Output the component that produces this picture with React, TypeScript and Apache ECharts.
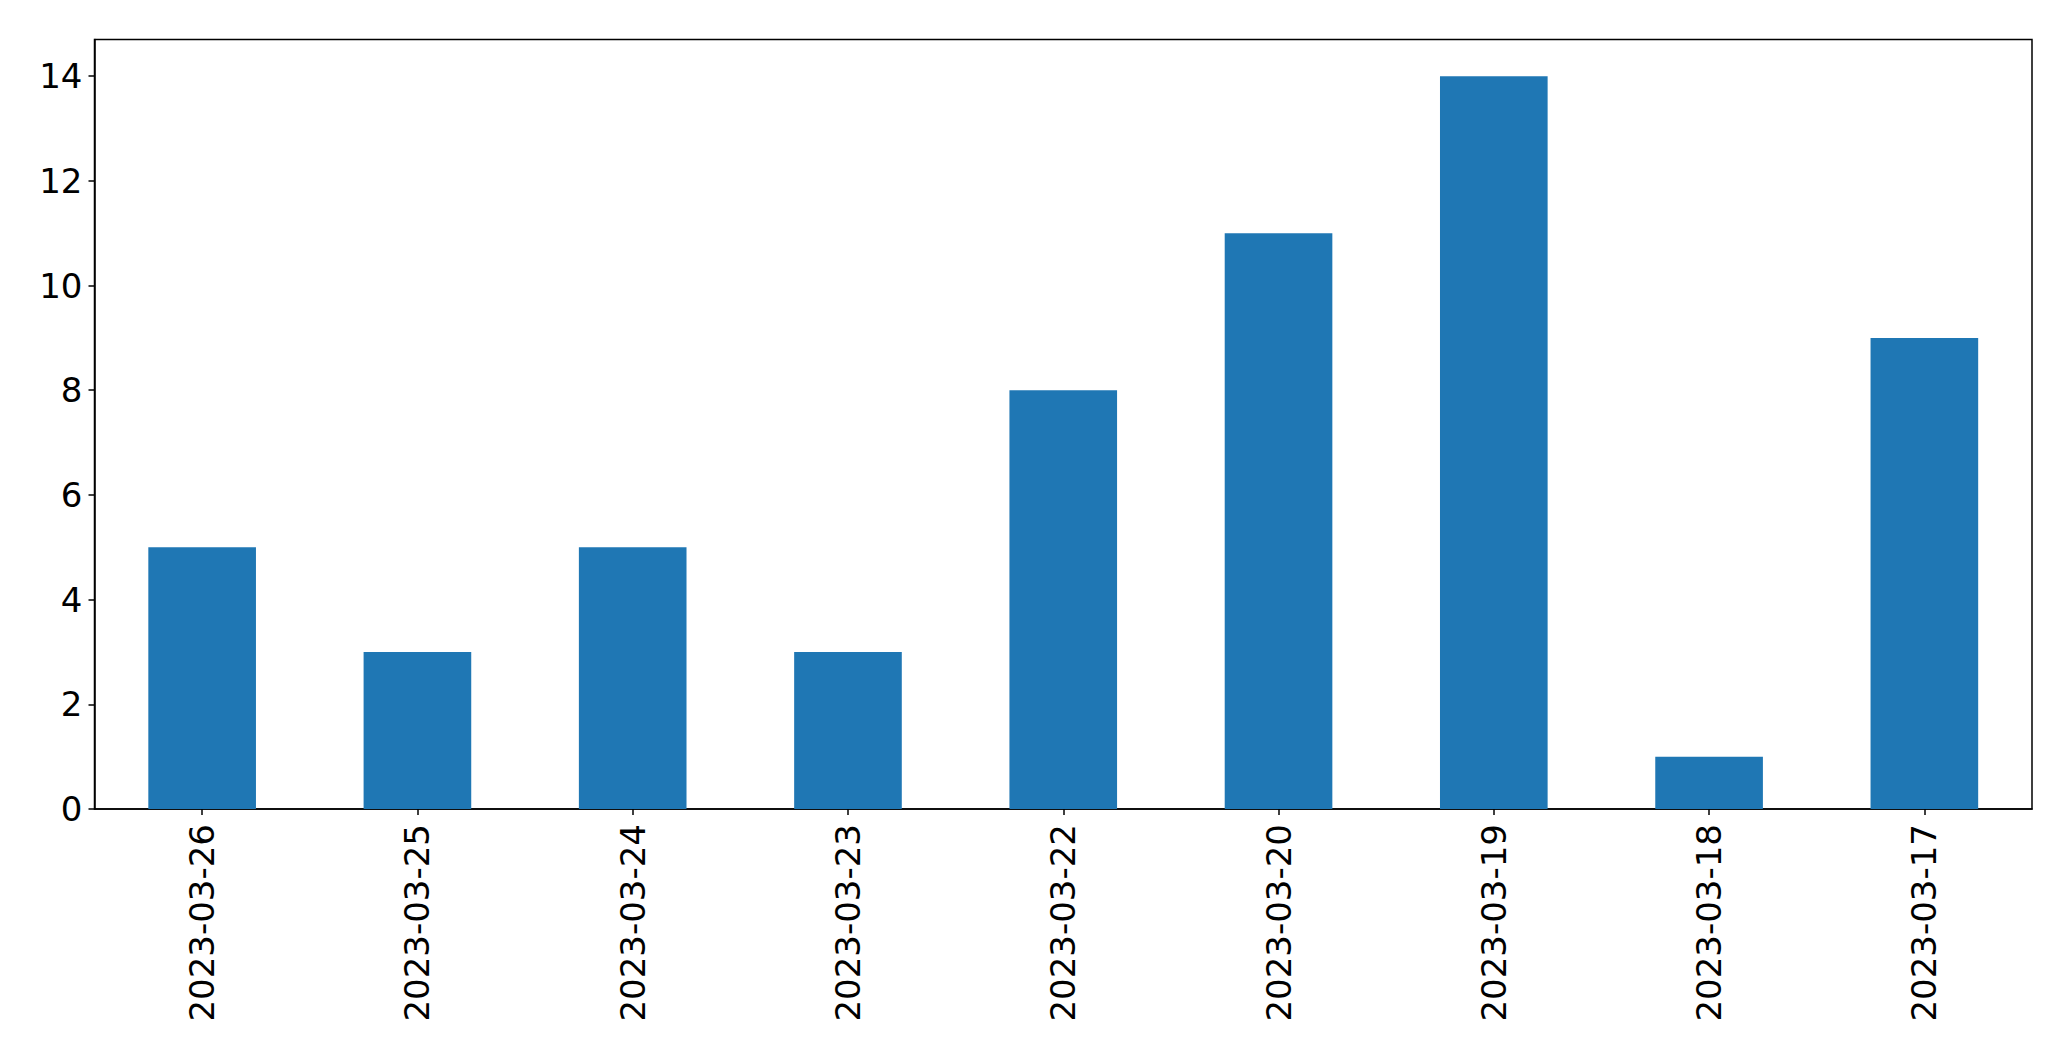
import React, { useEffect, useRef } from "react";
import * as echarts from "echarts";

const categories = [
  "2023-03-26",
  "2023-03-25",
  "2023-03-24",
  "2023-03-23",
  "2023-03-22",
  "2023-03-20",
  "2023-03-19",
  "2023-03-18",
  "2023-03-17",
];
const counts = [5, 3, 5, 3, 8, 11, 14, 1, 9];
const yMax = 14.7;
const yStep = 2;

export default function App() {
  const ref = useRef<HTMLDivElement>(null);
  useEffect(() => {
    document.body.style.margin = "0";
    const chart = echarts.init(ref.current!, null, { renderer: "svg" });
    const font = "DejaVu Sans";
    chart.setOption({
      animation: false,
      backgroundColor: "#ffffff",
      grid: {
        left: 94.5,
        right: 39,
        top: 39.5,
        bottom: 252,
        show: true,
        borderColor: "#000000",
        borderWidth: 1.5,
        backgroundColor: "transparent",
      },
      xAxis: {
        type: "category",
        data: categories,
        boundaryGap: true,
        axisLine: { show: true, lineStyle: { color: "#000000", width: 1.5 } },
        axisTick: { show: true, alignWithLabel: true, length: 6, lineStyle: { color: "#000000", width: 1.5 } },
        axisLabel: {
          rotate: 90,
          interval: 0,
          margin: 15,
          color: "#000000",
          fontFamily: font,
          fontSize: 34,
        },
        splitLine: { show: false },
      },
      yAxis: {
        type: "value",
        min: 0,
        max: yMax,
        interval: yStep,
        axisLine: { show: true, lineStyle: { color: "#000000", width: 1.5 } },
        axisTick: { show: true, length: 6, lineStyle: { color: "#000000", width: 1.5 } },
        axisLabel: {
          showMaxLabel: false,
          margin: 12,
          color: "#000000",
          fontFamily: font,
          fontSize: 34,
          formatter: (v: number) => (Math.abs(v % yStep) < 1e-9 ? String(v) : ""),
        },
        splitLine: { show: false },
      },
      series: [
        {
          type: "bar",
          data: counts,
          barWidth: "50%",
          itemStyle: { color: "#1f77b4" },
        },
      ],
    });
    return () => chart.dispose();
  }, []);
  return <div ref={ref} style={{ position: "absolute", left: 0, top: 0, width: 2071, height: 1061 }} />;
}
